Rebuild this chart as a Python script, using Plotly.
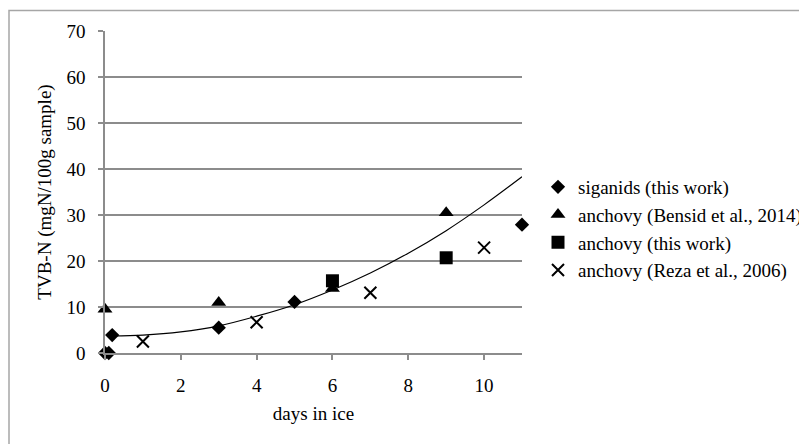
import plotly.graph_objects as go

# ---- data ----
siganids_x = [0, 0.1, 0.19, 3, 5, 11]
siganids_y = [0, 0, 3.9, 5.5, 11.1, 27.9]

bensid_x = [0, 3, 6, 9]
bensid_y = [9.5, 11.0, 14.0, 30.5]

anchovy_x = [6, 9]
anchovy_y = [15.7, 20.7]

reza_x = [1, 4, 7, 10]
reza_y = [2.5, 6.7, 13.1, 22.9]

# trend line
trend_x = [0.19, 1, 2, 3, 4, 5, 6, 7, 8, 9, 10, 11]
trend_y = [3.7, 3.9, 4.6, 5.9, 8.0, 10.5, 13.7, 17.4, 21.7, 26.6, 32.2, 38.3]

x_ticks = [0, 2, 4, 6, 8, 10]
y_ticks = [0, 10, 20, 30, 40, 50, 60, 70]

FONT = "'Liberation Serif', 'Times New Roman', serif"
FS = 19
GRID = "#8c8c8c"

fig = go.Figure()

fig.add_trace(go.Scatter(x=trend_x, y=trend_y, mode="lines", line=dict(color="black", width=1.2, shape="spline"),
                         showlegend=False, hoverinfo="skip"))

fig.add_trace(go.Scatter(x=siganids_x, y=siganids_y, mode="markers", name="siganids (this work)",
                         marker=dict(symbol="diamond", size=11, color="black"), cliponaxis=False))
fig.add_trace(go.Scatter(x=bensid_x, y=bensid_y, mode="markers", name="anchovy (Bensid et al., 2014)",
                         marker=dict(symbol="triangle-up", size=13, color="black"), cliponaxis=False))
fig.add_trace(go.Scatter(x=anchovy_x, y=anchovy_y, mode="markers", name="anchovy (this work)",
                         marker=dict(symbol="square", size=13, color="black"), cliponaxis=False))
fig.add_trace(go.Scatter(x=reza_x, y=reza_y, mode="markers", name="anchovy (Reza et al., 2006)",
                         marker=dict(symbol="x-thin-open", size=12, color="black", line=dict(width=2, color="black")),
                         cliponaxis=False))

# page body has an 8px offset, so positions are in figure coordinates
W, H = 807, 444
L, T = 97, 23
pw, ph = 417, 322
R, B = W - L - pw, H - T - ph

def px_x(x):
    return (x - L) / pw

def px_y(y):
    return 1 - (y - T) / ph

fig.update_layout(
    width=W, height=H,
    margin=dict(l=L, r=R, t=T, b=B, autoexpand=False),
    paper_bgcolor="white", plot_bgcolor="white",
    font=dict(family=FONT, size=FS, color="black"),
    showlegend=True,
    legend=dict(x=px_x(530), y=px_y(160), xanchor="left", yanchor="top",
                font=dict(family=FONT, size=FS, color="black"), itemwidth=30,
                tracegroupgap=0, bgcolor="rgba(0,0,0,0)"),
    xaxis=dict(range=[0, 11], tickvals=x_ticks, showgrid=False, zeroline=False,
               showline=True, linecolor=GRID, linewidth=1.5, automargin=False,
               ticks="outside", ticklen=5, tickcolor=GRID, tickwidth=1.5,
               ticklabelstandoff=9, tickfont=dict(family=FONT, size=FS),
               title=dict(text="days in ice", standoff=12, font=dict(family=FONT, size=FS))),
    yaxis=dict(range=[0, 70], tickvals=y_ticks, showgrid=True, gridcolor=GRID, gridwidth=1.5,
               zeroline=False, showline=True, linecolor=GRID, linewidth=1.5, automargin=False,
               ticks="outside", ticklen=5, tickcolor=GRID, tickwidth=1.5,
               ticklabelstandoff=9, tickfont=dict(family=FONT, size=FS),
               title=dict(text="TVB-N (mgN/100g sample)", standoff=10, font=dict(family=FONT, size=FS))),
    shapes=[dict(type="rect", xref="paper", yref="paper",
                 x0=px_x(1), x1=px_x(W + 30), y0=px_y(H + 30), y1=px_y(2.5),
                 line=dict(color="#a6a6a6", width=1.5), layer="below")],
)

fig.write_html("out.html")
